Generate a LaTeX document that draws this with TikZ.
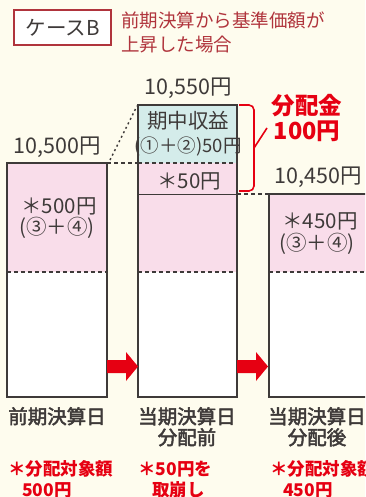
\documentclass[tikz,border=0pt]{standalone}
\usepackage{fontspec}
\setmainfont{Noto Sans CJK JP}
\newfontfamily\medjp[FakeBold=2.5]{Noto Sans CJK JP}
\usetikzlibrary{positioning}

\definecolor{bgcream}{HTML}{FEFCEE}
\definecolor{barpink}{HTML}{F9DDEA}
\definecolor{barblue}{HTML}{D4ECEA}
\definecolor{lineink}{HTML}{3E3A39}
\definecolor{headred}{HTML}{B0343C}
\definecolor{brightred}{HTML}{E60012}

\tikzset{
    barline/.style={draw=lineink, line width=1.4pt},
    splitline/.style={draw=lineink, line width=1.4pt, dash pattern=on 4pt off 3pt},
    price/.style={font=\fontsize{21.5}{23}\selectfont, text=lineink, inner sep=0pt},
    inbar/.style={font=\fontsize{20.5}{22}\selectfont, text=lineink, inner sep=0pt},
    daylabel/.style={font=\medjp\fontsize{19.5}{21}\selectfont, text=lineink, inner sep=0pt, align=center},
    note/.style={font=\fontsize{17.5}{20}\selectfont\bfseries, text=brightred, inner sep=0pt, anchor=west},
    bigarrow/.style={fill=brightred, draw=none}
}

\begin{document}
\begin{tikzpicture}[x=1pt, y=-1pt]
    \useasboundingbox (0,0) rectangle (365,497);
    \clip (0,0) rectangle (365,497);
    \fill[bgcream] (0,0) rectangle (365,497);

    % heading
    \node[draw=headred, line width=1.5pt, fill=white, minimum width=97pt, minimum height=35pt,
          font=\fontsize{20.5}{22}\selectfont, text=lineink] (caseB) at (62.5,27.5) {ケースB};
    \node[anchor=west, inner sep=0pt, font=\fontsize{18.5}{20}\selectfont, text=headred] (head1) at (121,20) {前期決算から基準価額が};
    \node[anchor=west, inner sep=0pt, font=\fontsize{18.5}{20}\selectfont, text=headred] (head2) at (121,45) {上昇した場合};

    % the three bars
    \foreach \l/\r/\t in {7/107/163, 138/237/194, 269/372/194} {
        \fill[barpink] (\l,\t) rectangle (\r,272);
        \fill[white] (\l,272) rectangle (\r,397);
        \draw[splitline] (\l,272) -- (\r,272);
        \draw[barline] (\l,397) -- (\l,\t) -- (\r,\t) -- (\r,397) -- cycle;
    }
    \fill[barblue] (138,105) rectangle (237,163);
    \fill[barpink] (138,163) rectangle (237,194);
    \draw[splitline] (138,163) -- (237,163);
    \draw[barline] (138,194) -- (138,105) -- (237,105) -- (237,194);

    % links between the bars
    \draw[lineink, line width=1.4pt, dash pattern=on 2pt off 3pt] (110,160) -- (137,106);
    \draw[splitline] (107,163) -- (138,163);
    \draw[splitline] (237,194) -- (269,194);

    % red arrows
    \foreach \s in {107, 237} {
        \fill[bigarrow] (\s,360) -- (\s+19,360) -- (\s+19,352) -- (\s+31,366.5)
            -- (\s+19,381) -- (\s+19,373) -- (\s,373) -- cycle;
    }

    % bracket
    \draw[brightred, line width=1.6pt, rounded corners=5pt] (239,105) -- (254,105) -- (254,191) -- (239,191);
    \coordinate (tip) at (267,128);
    \draw[brightred, line width=1.6pt] (254,148) -- (tip);
    \node[font=\fontsize{23.5}{25}\selectfont\bfseries, text=brightred, inner sep=0pt] (dist1) at (307,106) {分配金};
    \node[font=\fontsize{23.5}{25}\selectfont\bfseries, text=brightred, inner sep=0pt] (dist2) at (307,131) {100円};

    % prices
    \node[price] (p1) at (57,147) {10,500円};
    \node[price] (p2) at (188,88) {10,550円};
    \node[price] (p3) at (318,177) {10,450円};

    % texts in the bars
    \node[inbar] (a1) at (59,206) {＊500円};
    \node[inbar] (a2) at (57,228) {(③＋④)};
    \node[inbar] (b1) at (188,121) {期中収益};
    \node[inbar, font=\fontsize{18.5}{20}\selectfont] (b2) at (188,146) {(①＋②)50円};
    \node[inbar] (b3) at (189,181) {＊50円};
    \node[inbar] (c1) at (320,221) {＊450円};
    \node[inbar] (c2) at (317,244) {(③＋④)};

    % dates
    \node[daylabel, anchor=north] (d1) at (57,407) {前期決算日};
    \node[daylabel, anchor=north] (d2) at (187,407) {当期決算日\\分配前};
    \node[daylabel, anchor=north] (d3) at (317,407) {当期決算日\\分配後};

    % red notes
    \node[note] (n1) at (8,469) {＊分配対象額};
    \node[note] (n1b) at (22,490) {500円};
    \node[note] (n2) at (138,469) {＊50円を};
    \node[note] (n2b) at (152,490) {取崩し};
    \node[note] (n3) at (270,469) {＊分配対象額};
    \node[note] (n3b) at (283,490) {450円};
\end{tikzpicture}
\end{document}
